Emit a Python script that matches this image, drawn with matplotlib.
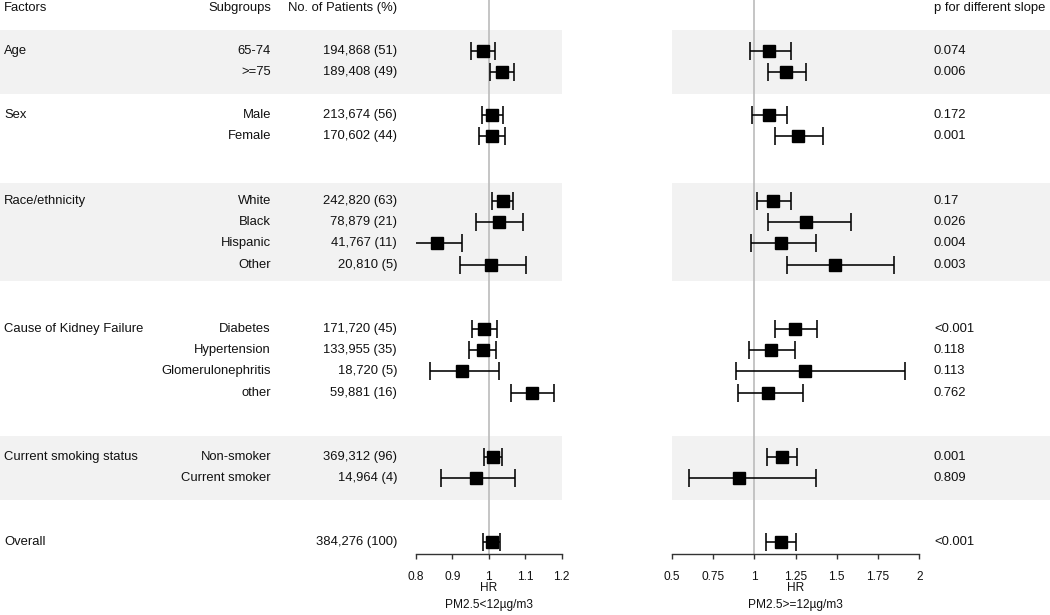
import numpy as np
import matplotlib.pyplot as plt

plt.rcParams['font.family'] = ['Liberation Sans', 'DejaVu Sans']

# Table content
factors = ['Age', '', 'Sex', '', 'Race/ethnicity', '', '', '',
           'Cause of Kidney Failure', '', '', '', 'Current smoking status', '', 'Overall']
subgroups = ['65-74', '>=75', 'Male', 'Female', 'White', 'Black', 'Hispanic', 'Other',
             'Diabetes', 'Hypertension', 'Glomerulonephritis', 'other',
             'Non-smoker', 'Current smoker', '']
patients = ['194,868 (51)', '189,408 (49)', '213,674 (56)', '170,602 (44)',
            '242,820 (63)', '78,879 (21)', '41,767 (11)', '20,810 (5)',
            '171,720 (45)', '133,955 (35)', '18,720 (5)', '59,881 (16)',
            '369,312 (96)', '14,964 (4)', '384,276 (100)']
p_slope = ['0.074', '0.006', '0.172', '0.001', '0.17', '0.026', '0.004', '0.003',
           '<0.001', '0.118', '0.113', '0.762', '0.001', '0.809', '<0.001']

# HR (95% CI), PM2.5 < 12
hr_low = np.array([0.984, 1.035, 1.010, 1.008, 1.038, 1.028, 0.857, 1.007,
                   0.988, 0.983, 0.927, 1.119, 1.012, 0.965, 1.010])
lo_low = np.array([0.951, 1.002, 0.980, 0.973, 1.010, 0.965, 0.791, 0.920,
                   0.954, 0.946, 0.838, 1.062, 0.987, 0.868, 0.985])
hi_low = np.array([1.017, 1.069, 1.040, 1.044, 1.067, 1.094, 0.925, 1.102,
                   1.022, 1.021, 1.027, 1.178, 1.036, 1.071, 1.031])

# HR (95% CI), PM2.5 >= 12
hr_high = np.array([1.092, 1.193, 1.090, 1.263, 1.114, 1.312, 1.160, 1.487,
                    1.249, 1.100, 1.306, 1.081, 1.166, 0.910, 1.160])
lo_high = np.array([0.974, 1.081, 0.985, 1.126, 1.015, 1.086, 0.979, 1.201,
                    1.128, 0.970, 0.892, 0.902, 1.079, 0.605, 1.071])
hi_high = np.array([1.221, 1.312, 1.200, 1.415, 1.221, 1.586, 1.372, 1.845,
                    1.380, 1.247, 1.915, 1.297, 1.259, 1.374, 1.251])

# layout (row index of each entry, shaded bands)
rows = np.array([2, 3, 5, 6, 9, 10, 11, 12, 15, 16, 17, 18, 21, 22, 25])
bands = [(1.0, 4.0), (8.2, 12.75), (20.0, 23.0)]

W, H = 1050, 615
Y0, DY = 8.2, 21.37


def row_of(py):
    return (py - Y0) / DY


fig = plt.figure(figsize=(W / 100, H / 100), dpi=100)

# background axes in pixel x / row y
bg = fig.add_axes([0, 0, 1, 1])
bg.set_xlim(0, W)
bg.set_ylim(row_of(H), row_of(0))
bg.axis('off')
for b0, b1 in bands:
    bg.axhspan(b0, b1, xmin=0, xmax=561.7 / W, color='#f2f2f2', lw=0)
    bg.axhspan(b0, b1, xmin=671.7 / W, xmax=1, color='#f2f2f2', lw=0)

fs = 9.4
txt = '#111111'
bg.text(4, 0, 'Factors', ha='left', va='center', fontsize=fs, color=txt)
bg.text(271, 0, 'Subgroups', ha='right', va='center', fontsize=fs, color=txt)
bg.text(397, 0, 'No. of Patients (%)', ha='right', va='center', fontsize=fs, color=txt)
bg.text(934, 0, 'p for different slope', ha='left', va='center', fontsize=fs, color=txt)
for r, f, s, n, p in zip(rows, factors, subgroups, patients, p_slope):
    bg.text(4, r, f, ha='left', va='center', fontsize=fs, color=txt)
    bg.text(271, r, s, ha='right', va='center', fontsize=fs, color=txt)
    bg.text(397, r, n, ha='right', va='center', fontsize=fs, color=txt)
    bg.text(934, r, p, ha='left', va='center', fontsize=fs, color=txt)

axis_py = 554.3
panels = [
    (416, 561.7, (0.8, 1.2), [0.8, 0.9, 1, 1.1, 1.2], ['0.8', '0.9', '1', '1.1', '1.2'],
     hr_low, lo_low, hi_low, 'PM2.5<12µg/m3'),
    (671.7, 919.3, (0.5, 2), [0.5, 0.75, 1, 1.25, 1.5, 1.75, 2],
     ['0.5', '0.75', '1', '1.25', '1.5', '1.75', '2'],
     hr_high, lo_high, hi_high, 'PM2.5>=12µg/m3'),
]

for x0, x1, xlim, ticks, labels, hr, lo, hi, sub in panels:
    ax = fig.add_axes([x0 / W, (H - axis_py) / H, (x1 - x0) / W, axis_py / H])
    ax.patch.set_visible(False)
    ax.set_xlim(*xlim)
    ax.set_ylim(row_of(axis_py), row_of(0))
    for side in ['top', 'left', 'right']:
        ax.spines[side].set_visible(False)
    ax.spines['bottom'].set_color('#333333')
    ax.spines['bottom'].set_linewidth(1.0)
    ax.set_yticks([])
    ax.set_xticks(ticks)
    ax.set_xticklabels(labels, color=txt)
    ax.tick_params(axis='x', direction='out', length=3.8, width=1.0, color='#333333',
                   pad=8, labelsize=8.6)
    ax.axvline(1, color='#c0c0c0', lw=1.3, zorder=0)
    ax.errorbar(hr, rows, xerr=[hr - lo, hi - hr], fmt='s', color='black',
                ms=8.4, capsize=6.4, elinewidth=1.15, capthick=1.15, zorder=3)
    ax.text(0.5, -34 / axis_py, 'HR', transform=ax.transAxes, ha='center', va='center',
            fontsize=8.6, color=txt)
    ax.text(0.5, -50.7 / axis_py, sub, transform=ax.transAxes, ha='center', va='center',
            fontsize=8.6, color=txt)

fig.savefig('out.png', dpi=100)
